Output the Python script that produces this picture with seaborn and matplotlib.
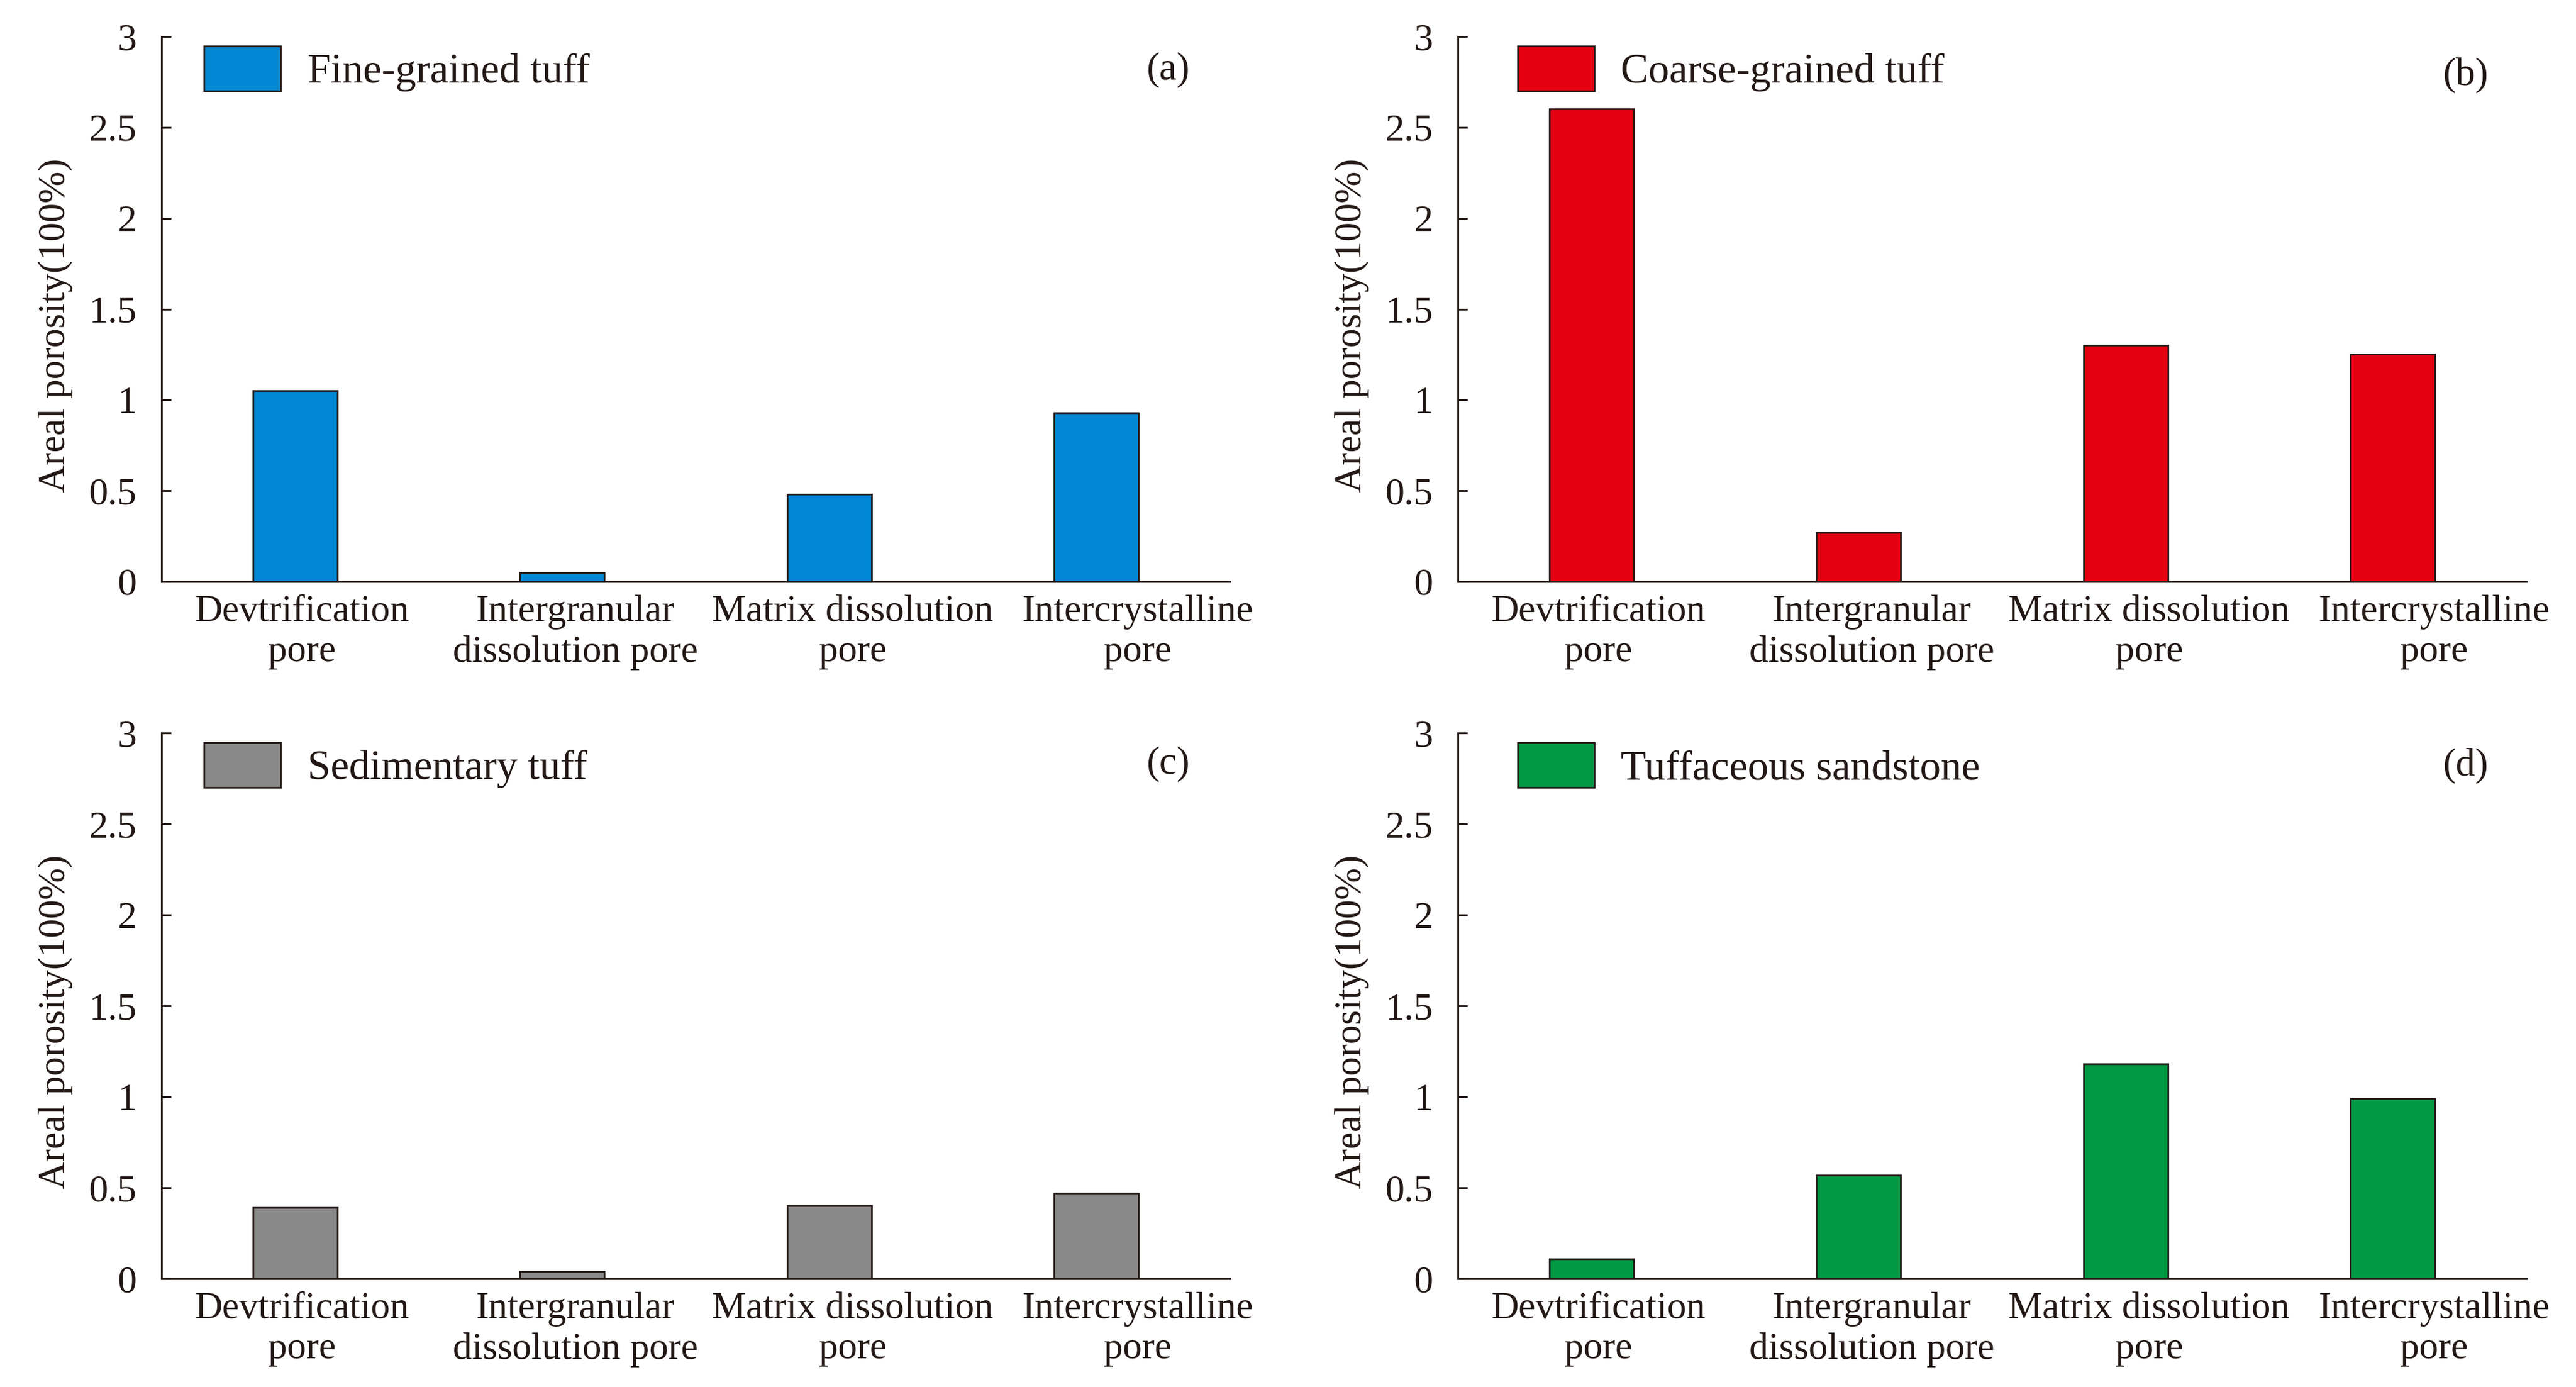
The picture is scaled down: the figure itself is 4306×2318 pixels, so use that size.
import matplotlib
matplotlib.use("Agg")
import matplotlib.pyplot as plt
import matplotlib.transforms as mtransforms
import seaborn as sns
from matplotlib.patches import Patch

# ---------------- data ----------------
categories = ["Devtrification\npore", "Intergranular\ndissolution pore",
              "Matrix dissolution\npore", "Intercrystalline\npore"]
fine_grained_tuff = [1.05, 0.05, 0.48, 0.93]
coarse_grained_tuff = [2.60, 0.27, 1.30, 1.25]
sedimentary_tuff = [0.39, 0.04, 0.40, 0.47]
tuffaceous_sandstone = [0.11, 0.57, 1.18, 0.99]

series_names = ["Fine-grained tuff", "Coarse-grained tuff",
                "Sedimentary tuff", "Tuffaceous sandstone"]
series_values = [fine_grained_tuff, coarse_grained_tuff,
                 sedimentary_tuff, tuffaceous_sandstone]
panel_letters = ["(a)", "(b)", "(c)", "(d)"]
y_ticks = [0, 0.5, 1, 1.5, 2, 2.5, 3]
y_tick_labels = ["0", "0.5", "1", "1.5", "2", "2.5", "3"]
y_label = "Areal porosity(100%)"

# ---------------- style ----------------
colors = ["#0088D4", "#E50012", "#898989", "#009944"]
ink = "#231815"

sns.set_style("ticks")
plt.rcParams["font.family"] = ["Liberation Serif", "DejaVu Serif"]
plt.rcParams["text.color"] = ink

W, H, DPI = 4306, 2318, 100
fig = plt.figure(figsize=(W / DPI, H / DPI), dpi=DPI)
fig.patch.set_facecolor("white")

# axes rectangles (pixels: left, top(y=3), right, bottom(y=0))
rects_px = [(270, 61, 2056, 972), (2437, 61, 4223, 972),
            (270, 1225, 2056, 2137), (2437, 1225, 4223, 2137)]
legend_anchor = [(0.040, 0.982), (0.056, 0.982), (0.040, 0.982), (0.056, 0.982)]
letter_pos = [(0.942, 0.938), (0.943, 0.929), (0.942, 0.943), (0.943, 0.940)]
# horizontal shift of the category labels (pixels), as in the original figure
label_shift_px = [11, 22, 39, 69]

for i in range(4):
    l, t, r, b = rects_px[i]
    ax = fig.add_axes([l / W, 1 - b / H, (r - l) / W, (b - t) / H])
    sns.barplot(x=categories, y=series_values[i], color=colors[i],
                saturation=1, width=0.315, edgecolor=ink, linewidth=2.0,
                ax=ax)
    ax.set_ylim(0, 3)
    ax.set_xlim(-0.5, 3.5)
    ax.set_yticks(y_ticks)
    ax.set_yticklabels(y_tick_labels)
    ax.tick_params(axis="y", direction="in", length=11.5, width=2.2,
                   pad=30, labelsize=46, colors=ink)
    ax.tick_params(axis="x", length=0, pad=16, labelsize=46, colors=ink)
    for j, lab in enumerate(ax.get_xticklabels()):
        lab.set_linespacing(1.2)
        shift = mtransforms.ScaledTranslation(label_shift_px[j] / DPI, 0,
                                              fig.dpi_scale_trans)
        lab.set_transform(lab.get_transform() + shift)
    for side in ["top", "right"]:
        ax.spines[side].set_visible(False)
    for side in ["left", "bottom"]:
        ax.spines[side].set_color(ink)
        ax.spines[side].set_linewidth(2.2)
    ax.set_xlabel("")
    ax.set_ylabel(y_label, fontsize=46, color=ink)
    ax.yaxis.set_label_coords(-0.083, 0.47)
    ax.set_facecolor("white")

    handle = Patch(facecolor=colors[i], edgecolor=ink, linewidth=2.0,
                   label=series_names[i])
    ax.legend(handles=[handle], loc="upper left",
              bbox_to_anchor=legend_anchor[i], frameon=False, fontsize=50,
              handlelength=1.84, handleheight=1.285, handletextpad=0.64,
              borderpad=0, borderaxespad=0)
    ax.text(letter_pos[i][0], letter_pos[i][1], panel_letters[i],
            transform=ax.transAxes, ha="center", va="center",
            fontsize=47, color=ink)

fig.savefig("out.png", dpi=DPI, facecolor="white")
